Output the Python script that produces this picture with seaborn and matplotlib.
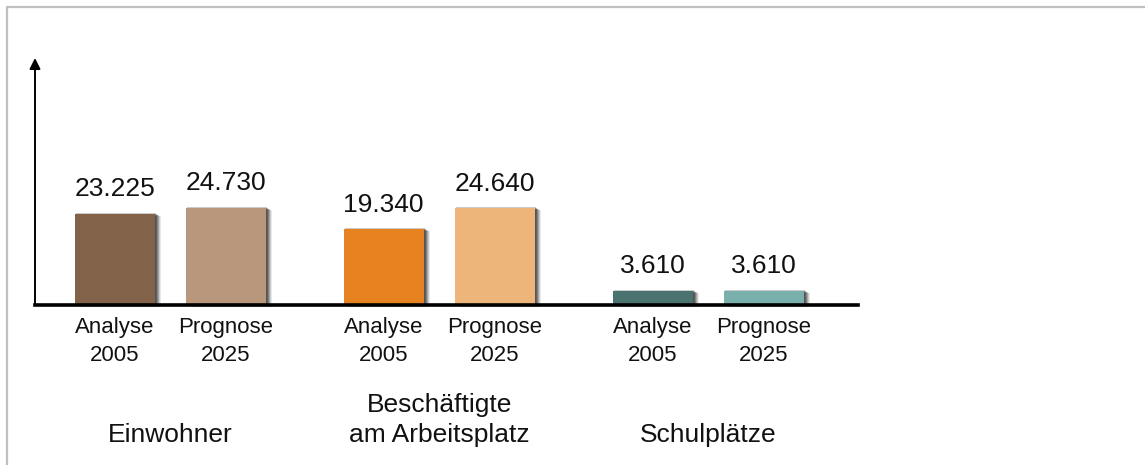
import numpy as np
import pandas as pd
import seaborn as sns
import matplotlib
matplotlib.use("Agg")
import matplotlib.pyplot as plt
import matplotlib.transforms as mtransforms
from matplotlib.patches import Rectangle

# ---- data ----
groups = ["Einwohner", "Beschäftigte\nam Arbeitsplatz", "Schulplätze"]
series = ["Analyse\n2005", "Prognose\n2025"]
einwohner = [23225, 24730]
beschaeftigte = [19340, 24640]
schulplaetze = [3610, 3610]
value_labels = ["23.225", "24.730", "19.340", "24.640", "3.610", "3.610"]
bar_colors = ["#826248", "#b8977c", "#e6821f", "#eeb57b", "#4a726f", "#7ab0ac"]

# ---- layout ----
sns.set_theme(style="white")
plt.rcParams["font.family"] = ["Liberation Sans", "DejaVu Sans"]

group_step = 2.42
values = einwohner + beschaeftigte + schulplaetze
pos = []
for g in range(len(groups)):
    for k in range(len(series)):
        pos.append(g * group_step + k)
bar_ids = [f"b{i}" for i in range(len(values))]
df = pd.DataFrame({"pos": pos, "value": values, "bar": bar_ids})

fig = plt.figure(figsize=(11.45, 4.65), dpi=100)
ax = fig.add_axes([35 / 1145, 160 / 465, 823 / 1145, 247 / 465])

sns.barplot(data=df, x="pos", y="value", hue="bar", hue_order=bar_ids,
            palette=bar_colors, native_scale=True, width=0.72, dodge=False,
            legend=False, saturation=1, ax=ax, zorder=3, linewidth=0,
            edgecolor="none")

# soft drop shadows derived from the drawn bars
bars = list(ax.patches)
for p in bars:
    p.set_linewidth(0)
    x0, y0 = p.get_x(), p.get_y()
    w, h = p.get_width(), p.get_height()
    for dx, dy, a in [(6, -2, 0.10), (5, -2, 0.16), (4, -1, 0.24),
                      (3, -1, 0.32), (2, 0, 0.38), (1, 1, 0.25)]:
        tr = mtransforms.offset_copy(ax.transData, fig=fig, x=dx, y=dy, units="dots")
        r = Rectangle((x0, y0), w, h, transform=tr, facecolor="#303030",
                      alpha=a, edgecolor="none", linewidth=0, zorder=2,
                      clip_on=False)
        ax.add_patch(r)

ax.set_xlim(-0.72, 6.69)
ax.set_ylim(0, 62800)

# value labels
for p, lab in zip(bars, value_labels):
    ax.annotate(lab, (p.get_x() + p.get_width() / 2, p.get_height()),
                xytext=(0, 12.5), textcoords="offset points",
                ha="center", va="baseline", fontsize=19, color="#111111")

# axes styling
for s in ["top", "right", "left"]:
    ax.spines[s].set_visible(False)
ax.spines["bottom"].set_color("black")
ax.spines["bottom"].set_linewidth(2.6)
ax.spines["bottom"].set_zorder(5)
ax.annotate("", xy=(0, 1), xytext=(0, 0), xycoords="axes fraction",
            arrowprops=dict(arrowstyle="-|>", color="black", lw=1.4,
                            mutation_scale=16, shrinkA=0, shrinkB=0))
ax.set_yticks([])
ax.set_xticks(pos)
ax.set_xticklabels(series * len(groups), fontsize=16, linespacing=1.45,
                   color="#111111")
ax.tick_params(axis="x", length=0, pad=8.5)
ax.set_xlabel("")
ax.set_ylabel("")

# group labels
blend = mtransforms.blended_transform_factory(ax.transData, fig.transFigure)
for g, name in enumerate(groups):
    cx = g * group_step + 0.5
    ax.text(cx, 18 / 465, name, transform=blend, ha="center", va="bottom",
            fontsize=19, linespacing=1.3, color="#111111")

# frame lines (top and left) of the figure
fig.add_artist(plt.Line2D([7 / 1145, 1.0], [1 - 7 / 465, 1 - 7 / 465],
                          transform=fig.transFigure, color="#bfbfbf", lw=1.6))
fig.add_artist(plt.Line2D([7 / 1145, 7 / 1145], [0, 1 - 7 / 465],
                          transform=fig.transFigure, color="#bfbfbf", lw=1.6))

fig.savefig("out.png", dpi=100)
